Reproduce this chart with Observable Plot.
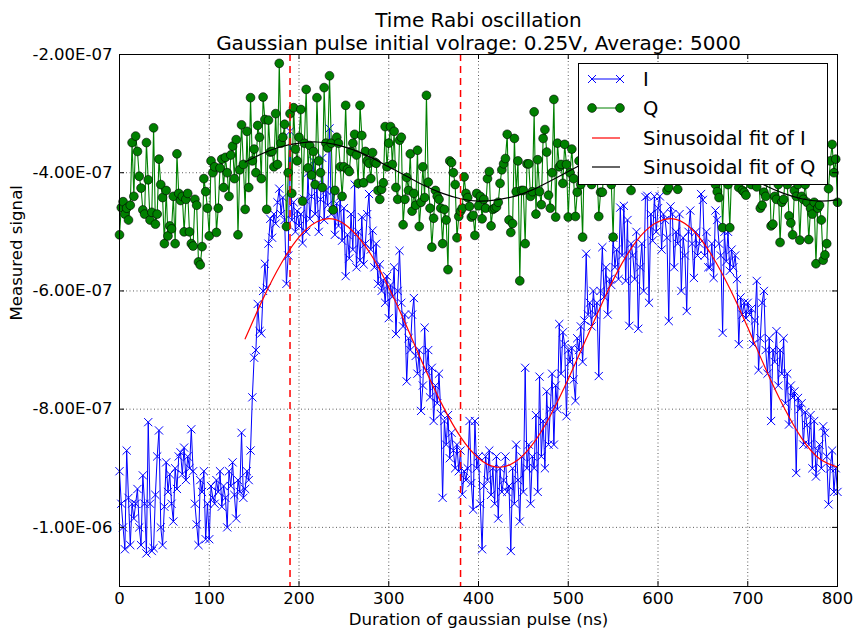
<!DOCTYPE html>
<html>
<head>
<meta charset="utf-8">
<script src="https://cdn.jsdelivr.net/npm/d3@7"></script>
<script src="https://cdn.jsdelivr.net/npm/@observablehq/plot@0.6"></script>
<style>
  html, body { margin: 0; padding: 0; background: #fff; }
  svg { font-family: "DejaVu Sans", sans-serif; }
</style>
</head>
<body>
<div id="chart"></div>
<script>
// Values in units of 1e-9 (signal); durations in ns, sampled every 2 ns
const durationStep = 2;
const seriesI = [
-905,-960,-1000,-1037,-870,-950,-1030,-960,-985,-960,
-935,-1000,-1030,-912,-960,-1044,-822,-960,-1040,-1035,
-945,-880,-836,-1000,-1030,-965,-890,-940,-910,-960,
-990,-900,-935,-880,-873,-910,-865,-920,-880,-900,
-834,-905,-960,-995,-1030,-920,-940,-905,-1020,-960,
-1020,-930,-950,-960,-920,-940,-905,-965,-930,-950,
-1000,-905,-930,-890,-945,-985,-920,-940,-840,-950,
-935,-905,-920,-870,-780,-713,-700,-622,-668,-672,
-600,-554,-595,-520,-478,-510,-470,-486,-450,-427,
-470,-442,-480,-588,-540,-330,-480,-450,-500,-465,
-490,-470,-519,-445,-500,-400,-478,-440,-380,-470,
-420,-500,-445,-375,-480,-430,-455,-325,-470,-430,
-505,-452,-490,-440,-515,-460,-575,-505,-545,-470,
-530,-420,-560,-500,-548,-475,-555,-520,-470,-436,
-530,-498,-560,-520,-588,-555,-600,-583,-620,-575,
-646,-590,-610,-560,-673,-600,-532,-620,-660,-640,
-753,-680,-700,-640,-612,-710,-740,-700,-803,-760,
-662,-735,-700,-780,-730,-820,-760,-790,-740,-808,
-950,-820,-860,-810,-883,-840,-870,-900,-860,-905,
-870,-944,-905,-920,-900,-820,-925,-970,-820,-900,
-880,-960,-1037,-930,-880,-920,-870,-945,-900,-960,
-880,-985,-900,-940,-920,-880,-940,-930,-1040,-900,
-960,-860,-920,-990,-880,-940,-730,-900,-860,-960,
-880,-900,-810,-940,-745,-880,-820,-900,-770,-860,
-800,-740,-860,-760,-800,-656,-740,-670,-690,-812,
-700,-720,-697,-750,-786,-680,-700,-660,-720,-650,
-537,-640,-620,-660,-600,-640,-620,-744,-600,-526,
-610,-560,-640,-580,-590,-510,-560,-530,-580,-459,
-540,-456,-583,-480,-659,-520,-540,-580,-500,-664,
-560,-520,-600,-441,-439,-620,-470,-515,-440,-500,
-460,-440,-530,-470,-480,-510,-651,-457,-470,-560,
-500,-520,-470,-600,-510,-540,-634,-500,-464,-520,
-578,-500,-540,-520,-436,-446,-540,-500,-560,-560,
-520,-578,-464,-480,-520,-540,-671,-500,-550,-500,
-566,-530,-560,-540,-580,-690,-611,-640,-620,-646,
-620,-640,-630,-690,-650,-583,-734,-680,-620,-600,
-700,-740,-680,-820,-700,-720,-668,-760,-700,-740,
-680,-790,-740,-826,-760,-780,-770,-908,-781,-800,
-790,-860,-805,-827,-860,-810,-900,-820,-914,-870,
-860,-900,-829,-840,-880,-961,-900,-870,-940,-900,
-940
];
const seriesQ = [
-505,-459,-449,-470,-460,-480,-455,-349,-440,-338,
-364,-406,-426,-463,-470,-349,-412,-480,-467,-324,
-487,-470,-377,-420,-442,-520,-430,-507,-490,-495,
-440,-520,-368,-435,-447,-440,-500,-445,-435,-500,
-520,-524,-445,-455,-551,-556,-525,-410,-432,-460,
-507,-380,-400,-390,-501,-460,-392,-377,-425,-374,
-400,-440,-370,-355,-410,-344,-505,-395,-319,-386,
-462,-330,-425,-273,-380,-360,-400,-320,-340,-410,
-272,-310,-462,-311,-365,-364,-390,-300,-386,-215,
-350,-340,-318,-491,-400,-300,-435,-290,-360,-380,
-340,-293,-448,-350,-259,-392,-354,-404,-364,-420,
-273,-380,-400,-425,-256,-350,-358,-236,-350,-463,
-430,-340,-350,-390,-440,-390,-286,-394,-398,-364,
-350,-335,-370,-418,-286,-337,-417,-364,-380,-384,
-410,-366,-382,-384,-430,-445,-428,-417,-322,-390,
-350,-322,-386,-330,-425,-445,-345,-340,-488,-445,
-408,-430,-368,-465,-435,-455,-362,-491,-450,-390,
-442,-269,-416,-460,-526,-477,-430,-440,-445,-460,
-520,-462,-480,-564,-380,-383,-400,-420,-510,-474,
-465,-460,-407,-435,-442,-457,-475,-472,-506,-435,
-456,-440,-478,-445,-460,-410,-398,-490,-462,-460,
-458,-450,-418,-395,-385,-376,-335,-480,-501,-486,
-342,-432,-380,-583,-430,-430,-520,-385,-385,-440,
-432,-297,-470,-378,-432,-454,-342,-327,-365,-438,
-460,-400,-276,-475,-350,-390,-386,-418,-352,-386,
-475,-400,-360,-410,-474,-433,-380,-420,-509,-360,
-395,-340,-408,-420,-380,-350,-395,-474,-433,-433,
-390,-400,-370,-350,-420,-509,-380,-360,-400,-340,
-390,-370,-350,-410,-380,-430,-360,-330,-380,-400,
-350,-330,-370,-390,-340,-360,-380,-320,-350,-400,
-360,-340,-380,-330,-370,-430,-425,-360,-380,-340,
-370,-428,-350,-390,-340,-360,-400,-380,-350,-390,
-410,-360,-380,-400,-370,-350,-390,-410,-380,-360,
-400,-380,-420,-432,-442,-390,-493,-410,-380,-420,
-493,-400,-370,-410,-380,-425,-390,-430,-433,-438,
-400,-380,-420,-370,-410,-424,-390,-460,-455,-433,
-440,-410,-390,-490,-487,-440,-445,-420,-518,-450,
-445,-400,-420,-473,-485,-505,-430,-440,-420,-514,
-440,-445,-420,-450,-513,-460,-470,-450,-554,-460,
-455,-480,-548,-539,-520,-427,-380,-352,-400,-377,
-450
];
const fitDurations = [140,160,180,200,220,240,260,280,300,320,340,360,380,400,420,440,460,480,500,520,540,560,580,600,620,640,660,680,700,720,740,760,780,800];
const fitI = [-681,-613,-554,-509,-483,-479,-499,-538,-594,-660,-730,-794,-847,-883,-898,-890,-860,-811,-749,-681,-613,-553,-508,-483,-479,-499,-540,-596,-662,-732,-796,-849,-884,-898];
const fitQ = [-382,-367,-356,-350,-348,-352,-361,-374,-390,-406,-422,-435,-444,-448,-446,-440,-429,-414,-398,-382,-367,-356,-350,-348,-352,-361,-374,-390,-406,-422,-435,-444,-448,-446];
const markerLines = [190, 380];
const xTicks = [0,100,200,300,400,500,600,700,800];
const yTicks = [-1000,-800,-600,-400,-200];
const yTickLabels = ["-1.00E-06","-8.00E-07","-6.00E-07","-4.00E-07","-2.00E-07"];
const titleLines = ["Time Rabi oscillation", "Gaussian pulse initial volrage: 0.25V, Average: 5000"];
const xLabel = "Duration of gaussian pulse (ns)";
const yLabel = "Measured signal";
const legendItems = ["I", "Q", "Sinusoidal fit of I", "Sinusoidal fit of Q"];

const dataI = seriesI.map((v, i) => ({t: i * durationStep, v}));
const dataQ = seriesQ.map((v, i) => ({t: i * durationStep, v}));
const fitIData = fitDurations.map((t, i) => ({t, v: fitI[i]}));
const fitQData = fitDurations.map((t, i) => ({t, v: fitQ[i]}));

const W = 863, H = 638, mL = 119, mR = 26, mT = 54, mB = 52;
const fw = W - mL - mR, fh = H - mT - mB;

const plot = Plot.plot({
  width: W, height: H,
  marginLeft: mL, marginRight: mR, marginTop: mT, marginBottom: mB,
  style: {fontFamily: "DejaVu Sans, sans-serif", fontSize: "16.5px", background: "#fff", color: "#000", overflow: "visible"},
  x: {domain: [0, 800]},
  y: {domain: [-1100, -200]},
  marks: [
    Plot.gridX(xTicks, {stroke: "#000", strokeOpacity: 0.8, strokeWidth: 0.8, strokeDasharray: "1,2.5"}),
    Plot.gridY(yTicks, {stroke: "#000", strokeOpacity: 0.8, strokeWidth: 0.8, strokeDasharray: "1,2.5"}),
    Plot.line(dataI, {x: "t", y: "v", stroke: "#0000ff", strokeWidth: 1}),
    Plot.dot(dataI, {x: "t", y: "v", symbol: "times", r: 3.8, stroke: "#0000ff", strokeWidth: 1}),
    Plot.line(dataQ, {x: "t", y: "v", stroke: "#008000", strokeWidth: 1.1}),
    Plot.dot(dataQ, {x: "t", y: "v", r: 4.4, fill: "#008000", stroke: "#000", strokeWidth: 0.6}),
    Plot.line(fitIData, {x: "t", y: "v", stroke: "#ff0000", strokeWidth: 1.2, curve: "natural"}),
    Plot.line(fitQData, {x: "t", y: "v", stroke: "#000", strokeWidth: 1.2, curve: "natural"}),
    Plot.ruleX(markerLines, {stroke: "#ff0000", strokeWidth: 1.5, strokeDasharray: "7,5"}),
    Plot.tickX(xTicks, {x: d => d, insetTop: fh - 5, stroke: "#000"}),
    Plot.tickX(xTicks, {x: d => d, insetBottom: fh - 5, stroke: "#000"}),
    Plot.tickY(yTicks, {y: d => d, insetRight: fw - 5, stroke: "#000"}),
    Plot.tickY(yTicks, {y: d => d, insetLeft: fw - 5, stroke: "#000"}),
    Plot.frame({stroke: "#000", strokeWidth: 1}),
    Plot.axisX({ticks: xTicks, tickSize: 0, tickPadding: 6, fontSize: 16.5, label: null}),
    Plot.axisY({ticks: yTicks, tickSize: 0, tickPadding: 7, fontSize: 16.5, label: null,
      tickFormat: d => yTickLabels[yTicks.indexOf(d)]}),
    Plot.text([titleLines[0]], {text: d => d, frameAnchor: "top", dy: -42, fontSize: 20}),
    Plot.text([titleLines[1]], {text: d => d, frameAnchor: "top", dy: -19, fontSize: 20}),
    Plot.text([xLabel], {text: d => d, frameAnchor: "bottom", dy: 38, fontSize: 16.6}),
    Plot.text([yLabel], {text: d => d, frameAnchor: "left", dx: -103, rotate: -90, fontSize: 16.6})
  ]
});

// Legend (upper right, inside the frame)
const svg = d3.select(plot);
const lg = svg.append("g").attr("font-family", "DejaVu Sans, sans-serif").attr("font-size", 19.5)
  .attr("text-anchor", "start");
lg.append("rect").attr("x", 578.5).attr("y", 63.5).attr("width", 249).attr("height", 121)
  .attr("fill", "#fff").attr("stroke", "#000").attr("stroke-width", 1);
const rowsY = [79, 108, 138, 167];
const colors = ["#0000ff", "#008000", "#ff0000", "#000"];
legendItems.forEach((label, i) => {
  const y = rowsY[i];
  lg.append("line").attr("x1", 592).attr("x2", 620).attr("y1", y).attr("y2", y)
    .attr("stroke", colors[i]).attr("stroke-width", i < 2 ? 1 : 1.2);
  [592, 620].forEach(x => {
    if (i === 0) {
      const r = 4;
      lg.append("path").attr("d", `M${x-r},${y-r}L${x+r},${y+r}M${x-r},${y+r}L${x+r},${y-r}`)
        .attr("stroke", colors[0]).attr("stroke-width", 1).attr("fill", "none");
    } else if (i === 1) {
      lg.append("circle").attr("cx", x).attr("cy", y).attr("r", 4.4)
        .attr("fill", "#008000").attr("stroke", "#000").attr("stroke-width", 0.6);
    }
  });
  lg.append("text").attr("x", 643).attr("y", y).attr("dy", "0.35em").attr("fill", "#000")
    .attr("text-anchor", "start").text(label);
});

document.getElementById("chart").appendChild(plot);
</script>
</body>
</html>
